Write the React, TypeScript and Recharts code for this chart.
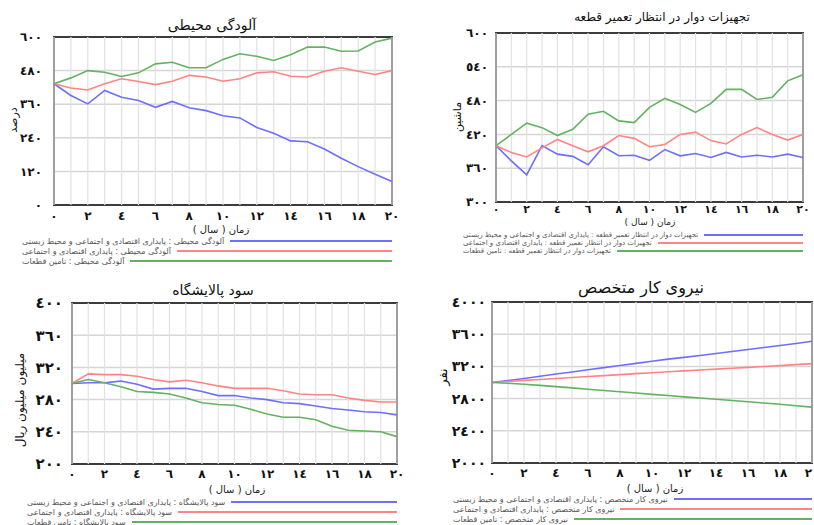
import React from 'react';
import { LineChart, Line, XAxis, YAxis, CartesianGrid, ReferenceLine, ReferenceArea } from 'recharts';

const years = [0, 1, 2, 3, 4, 5, 6, 7, 8, 9, 10, 11, 12, 13, 14, 15, 16, 17, 18, 19, 20];
const xTicks = [0, 2, 4, 6, 8, 10, 12, 14, 16, 18, 20];

const scenarios = [
  'پایداری اقتصادی و اجتماعی و محیط زیستی',
  'پایداری اقتصادی و اجتماعی',
  'تامین قطعات',
];
const colors = ['#6f6fff', '#ff8585', '#62b262'];

// آلودگی محیطی (درصد)
const pollutionFull = [433, 391, 361, 409, 385, 373, 349, 370, 347, 337, 319, 311, 277, 256, 229, 226, 200, 167, 137, 110, 84];
const pollutionEcoSocial = [433, 418, 411, 433, 451, 441, 430, 442, 463, 457, 442, 451, 472, 476, 460, 457, 478, 490, 478, 466, 480];
const pollutionSupply = [433, 454, 480, 474, 459, 472, 504, 510, 490, 490, 520, 540, 531, 516, 537, 564, 564, 549, 550, 582, 596];
const pollutionTicks = [0, 120, 240, 360, 480, 600];

// تجهیزات دوار در انتظار تعمیر قطعه (ماشین)
const equipFull = [400, 373, 348, 400, 385, 381, 366, 398, 382, 383, 374, 393, 382, 386, 379, 388, 380, 383, 380, 385, 379];
const equipEcoSocial = [400, 388, 380, 396, 411, 400, 389, 400, 418, 413, 398, 402, 420, 424, 409, 403, 420, 432, 420, 410, 420];
const equipSupply = [400, 420, 440, 432, 418, 429, 456, 461, 444, 441, 468, 484, 473, 459, 475, 500, 500, 482, 486, 515, 526];
const equipTicks = [300, 360, 420, 480, 540, 600];

// سود پالایشگاه (میلیون میلیون ریال)
const profitFull = [300, 301, 301, 303, 299, 293, 294, 294, 290, 285, 285, 282, 280, 276, 275, 272, 269, 267, 265, 264, 261];
const profitEcoSocial = [300, 312, 311, 311, 309, 305, 302, 304, 301, 297, 294, 294, 294, 291, 287, 286, 286, 282, 279, 277, 277];
const profitSupply = [300, 305, 301, 296, 290, 289, 287, 282, 276, 274, 273, 268, 262, 258, 258, 255, 247, 242, 241, 240, 234];
const profitTicks = [200, 240, 280, 320, 360, 400];

// نیروی کار متخصص (نفر)
const laborFull = [3000, 3025, 3050, 3078, 3105, 3130, 3158, 3185, 3212, 3238, 3265, 3290, 3312, 3335, 3360, 3385, 3410, 3435, 3460, 3485, 3512];
const laborEcoSocial = [3000, 3013, 3026, 3038, 3050, 3062, 3074, 3086, 3098, 3110, 3121, 3133, 3144, 3155, 3166, 3177, 3188, 3199, 3210, 3222, 3234];
const laborSupply = [3000, 2990, 2978, 2964, 2949, 2933, 2917, 2901, 2885, 2869, 2853, 2838, 2822, 2807, 2792, 2776, 2760, 2745, 2729, 2712, 2694];
const laborTicks = [2000, 2400, 2800, 3200, 3600, 4000];

const FONT = '"DejaVu Sans", sans-serif';
const arabicDigits = '٠١٢٣٤٥٦٧٨٩';
const toArabic = (v: number) => String(v).replace(/\d/g, (d) => arabicDigits[Number(d)]);

type PanelProps = {
  left: number;
  top: number;
  width: number;
  height: number;
  marginTop: number;
  marginRight: number;
  yWidth: number;
  yGap: number;
  yTicks: number[];
  tickSize: number;
  xTickSize: number;
  xTickMargin: number;
  series: number[][];
  variable: string;
  title: string;
  titleX: number;
  titleY: number;
  titleSize: number;
  yLabel: string;
  yLabelX: number;
  yLabelY: number;
  yLabelSize: number;
  xLabelX: number;
  xLabelY: number;
  xLabelSize: number;
  legendLeft: number;
  legendTop: number;
  legendRow: number;
  legendFont: number;
};

function Panel(p: PanelProps) {
  const data = years.map((t, i) => ({ t, s0: p.series[0][i], s1: p.series[1][i], s2: p.series[2][i] }));
  const yMin = p.yTicks[0];
  const yMax = p.yTicks[p.yTicks.length - 1];
  const plotRight = p.left + p.width - p.marginRight;

  return (
    <>
      <div
        style={{
          position: 'absolute',
          left: p.titleX,
          top: p.titleY,
          transform: 'translate(-50%, -50%)',
          fontSize: p.titleSize,
          direction: 'rtl',
          whiteSpace: 'nowrap',
          color: '#111',
        }}
      >
        {p.title}
      </div>
      <div
        style={{
          position: 'absolute',
          left: p.yLabelX,
          top: p.yLabelY,
          transform: 'translate(-50%, -50%) rotate(-90deg)',
          fontSize: p.yLabelSize,
          direction: 'rtl',
          whiteSpace: 'nowrap',
          color: '#111',
        }}
      >
        {p.yLabel}
      </div>
      <div
        style={{
          position: 'absolute',
          left: p.xLabelX,
          top: p.xLabelY,
          transform: 'translate(-50%, -50%)',
          fontSize: p.xLabelSize,
          direction: 'rtl',
          whiteSpace: 'nowrap',
          color: '#222',
        }}
      >
        زمان ( سال )
      </div>
      <div style={{ position: 'absolute', left: p.left, top: p.top }}>
        <LineChart
          width={p.width}
          height={p.height}
          data={data}
          margin={{ top: p.marginTop, right: p.marginRight, left: 0, bottom: 0 }}
        >
          <CartesianGrid vertical={false} stroke="#d6d6d6" strokeWidth={1.5} />
          {years.map((y) => (
            <ReferenceLine key={y} x={y} stroke="#e2e2e2" strokeWidth={1.2} />
          ))}
          <XAxis
            dataKey="t"
            type="number"
            domain={[0, 20]}
            ticks={xTicks}
            interval={0}
            axisLine={false}
            tickLine={false}
            tickSize={0}
            tickMargin={p.xTickMargin}
            height={20}
            tickFormatter={toArabic}
            tick={{ fontSize: p.xTickSize, fontWeight: 700, fill: '#111', fontFamily: FONT }}
          />
          <YAxis
            type="number"
            domain={[yMin, yMax]}
            ticks={p.yTicks}
            interval={0}
            width={p.yWidth}
            axisLine={false}
            tickLine={false}
            tickSize={0}
            tickMargin={p.yGap}
            tickFormatter={toArabic}
            tick={{ fontSize: p.tickSize, fontWeight: 700, fill: '#111', fontFamily: FONT }}
          />
          {['s0', 's1', 's2'].map((k, i) => (
            <Line
              key={k}
              dataKey={k}
              type="linear"
              stroke={colors[i]}
              strokeWidth={1.6}
              dot={false}
              isAnimationActive={false}
            />
          ))}
          <ReferenceArea x1={0} x2={20} y1={yMin} y2={yMax} fill="none" stroke="#3c3c3c" strokeWidth={2} />
        </LineChart>
      </div>
      <div
        style={{
          position: 'absolute',
          left: p.legendLeft,
          top: p.legendTop,
          width: plotRight - p.legendLeft,
        }}
      >
        {scenarios.map((s, i) => (
          <div key={s} style={{ display: 'flex', alignItems: 'center', height: p.legendRow }}>
            <span
              dir="rtl"
              style={{ fontSize: p.legendFont, color: '#555', whiteSpace: 'nowrap', marginRight: 6 }}
            >
              {p.variable} : {s}
            </span>
            <div style={{ flex: 1, height: 2, background: colors[i] }} />
          </div>
        ))}
      </div>
    </>
  );
}

export default function App() {
  return (
    <div
      style={{
        position: 'absolute',
        left: 0,
        top: 0,
        width: 814,
        height: 525,
        background: '#fff',
        fontFamily: FONT,
        overflow: 'hidden',
      }}
    >
      <Panel
        left={0}
        top={0}
        width={410}
        height={225}
        marginTop={37}
        marginRight={18}
        yWidth={54}
        yGap={12}
        yTicks={pollutionTicks}
        tickSize={12}
        xTickSize={12}
        xTickMargin={6}
        series={[pollutionFull, pollutionEcoSocial, pollutionSupply]}
        variable="آلودگی محیطی"
        title="آلودگی محیطی"
        titleX={212}
        titleY={25}
        titleSize={14}
        yLabel="درصد"
        yLabelX={13}
        yLabelY={120}
        yLabelSize={11}
        xLabelX={221}
        xLabelY={229}
        xLabelSize={10}
        legendLeft={22}
        legendTop={236}
        legendRow={10}
        legendFont={8}
      />
      <Panel
        left={410}
        top={0}
        width={404}
        height={222}
        marginTop={33}
        marginRight={11}
        yWidth={86}
        yGap={8}
        yTicks={equipTicks}
        tickSize={12}
        xTickSize={11}
        xTickMargin={3}
        series={[equipFull, equipEcoSocial, equipSupply]}
        variable="تجهیزات دوار در انتظار تعمیر قطعه"
        title="تجهیزات دوار در انتظار تعمیر قطعه"
        titleX={662}
        titleY={17}
        titleSize={12}
        yLabel="ماشین"
        yLabelX={457}
        yLabelY={117}
        yLabelSize={11}
        xLabelX={650}
        xLabelY={222}
        xLabelSize={9}
        legendLeft={463}
        legendTop={231}
        legendRow={8}
        legendFont={7}
      />
      <Panel
        left={0}
        top={260}
        width={410}
        height={224}
        marginTop={43}
        marginRight={13}
        yWidth={72}
        yGap={9}
        yTicks={profitTicks}
        tickSize={15}
        xTickSize={12}
        xTickMargin={5}
        series={[profitFull, profitEcoSocial, profitSupply]}
        variable="سود پالایشگاه"
        title="سود پالایشگاه"
        titleX={213}
        titleY={290}
        titleSize={14}
        yLabel="میلیون میلیون ریال"
        yLabelX={20}
        yLabelY={400}
        yLabelSize={12}
        xLabelX={237}
        xLabelY={489}
        xLabelSize={10}
        legendLeft={27}
        legendTop={497}
        legendRow={10}
        legendFont={8}
      />
      <Panel
        left={410}
        top={260}
        width={404}
        height={223}
        marginTop={42}
        marginRight={2}
        yWidth={82}
        yGap={6}
        yTicks={laborTicks}
        tickSize={14}
        xTickSize={12}
        xTickMargin={5}
        series={[laborFull, laborEcoSocial, laborSupply]}
        variable="نیروی کار متخصص"
        title="نیروی کار متخصص"
        titleX={641}
        titleY={287}
        titleSize={16}
        yLabel="نفر"
        yLabelX={442}
        yLabelY={377}
        yLabelSize={13}
        xLabelX={655}
        xLabelY={488}
        xLabelSize={10}
        legendLeft={453}
        legendTop={494}
        legendRow={10}
        legendFont={8}
      />
    </div>
  );
}
